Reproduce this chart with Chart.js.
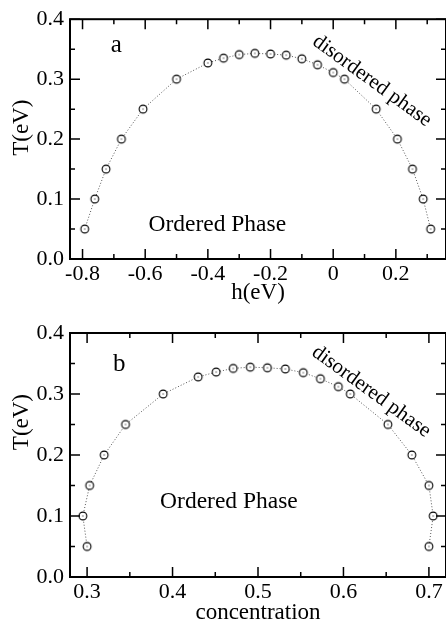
<!DOCTYPE html>
<html>
<head>
<meta charset="utf-8">
<script src="https://cdn.jsdelivr.net/npm/chart.js@4.4.0/dist/chart.umd.min.js"></script>
<style>
  html, body { margin: 0; padding: 0; background: #fff; overflow: hidden; width: 446px; height: 624px; }
  .panel { position: absolute; left: 0; }
</style>
</head>
<body>
<div class="panel" style="top:0"><canvas id="chartA" width="452" height="312"></canvas></div>
<div class="panel" style="top:312px"><canvas id="chartB" width="452" height="316"></canvas></div>
<script>
// panel a: transition temperature vs field h
const TEMP_A = [0.05, 0.1, 0.15, 0.2, 0.25, 0.3, 0.327, 0.335, 0.341, 0.343, 0.342, 0.340, 0.334, 0.324, 0.311, 0.3, 0.25, 0.2, 0.15, 0.1, 0.05];
const FIELD_H = [-0.793, -0.761, -0.725, -0.676, -0.607, -0.5, -0.4, -0.35, -0.3, -0.25, -0.2, -0.15, -0.1, -0.05, 0, 0.036, 0.137, 0.205, 0.253, 0.287, 0.311];

// panel b: transition temperature vs concentration
const TEMP_B = [0.05, 0.1, 0.15, 0.2, 0.25, 0.3, 0.328, 0.336, 0.342, 0.344, 0.343, 0.341, 0.335, 0.325, 0.312, 0.3, 0.25, 0.2, 0.15, 0.1, 0.05];
const CONC = [0.3, 0.295, 0.303, 0.32, 0.345, 0.389, 0.43, 0.451, 0.471, 0.491, 0.511, 0.532, 0.553, 0.573, 0.594, 0.608, 0.652, 0.68, 0.7, 0.705, 0.7];

const T_TICKS = [0, 0.1, 0.2, 0.3, 0.4];
const T_LABELS = ['0.0', '0.1', '0.2', '0.3', '0.4'];
const T_MINOR = [0.05, 0.15, 0.25, 0.35];
const H_TICKS = [-0.8, -0.6, -0.4, -0.2, 0, 0.2];
const H_LABELS = ['-0.8', '-0.6', '-0.4', '-0.2', '0', '0.2'];
const H_MINOR = [-0.7, -0.5, -0.3, -0.1, 0.1, 0.3];
const C_TICKS = [0.3, 0.4, 0.5, 0.6, 0.7];
const C_LABELS = ['0.3', '0.4', '0.5', '0.6', '0.7'];
const C_MINOR = [0.35, 0.45, 0.55, 0.65];

const SERIF = '"Liberation Serif", "Times New Roman", serif';
Chart.defaults.font.family = SERIF;
Chart.defaults.color = '#000';

// open circle with a dot in the middle
const marker = document.createElement('canvas');
marker.width = 12;
marker.height = 12;
(function () {
  const c = marker.getContext('2d');
  c.fillStyle = '#fff';
  c.strokeStyle = '#000';
  c.lineWidth = 1.1;
  c.beginPath();
  c.arc(6, 6, 3.9, 0, Math.PI * 2);
  c.fill();
  c.stroke();
  c.fillStyle = '#000';
  c.fillRect(5.5, 5.5, 1, 1);
})();

// box frame, inward ticks on all four sides, y title and text notes
const frameTicks = {
  id: 'frameTicks',
  afterDatasetsDraw(chart, args, opts) {
    const {ctx, chartArea: a, scales: {x, y}} = chart;
    ctx.save();
    ctx.strokeStyle = '#000';
    ctx.lineWidth = 1.5;
    ctx.beginPath();
    const xTick = (v, len) => {
      const px = x.getPixelForValue(v);
      ctx.moveTo(px, a.bottom); ctx.lineTo(px, a.bottom - len);
      ctx.moveTo(px, a.top); ctx.lineTo(px, a.top + len);
    };
    const yTick = (v, len) => {
      const py = y.getPixelForValue(v);
      ctx.moveTo(a.left, py); ctx.lineTo(a.left + len, py);
      ctx.moveTo(a.right, py); ctx.lineTo(a.right - len, py);
    };
    opts.xMajor.forEach(v => xTick(v, 10));
    opts.xMinor.forEach(v => xTick(v, 5));
    T_TICKS.forEach(v => yTick(v, 10));
    T_MINOR.forEach(v => yTick(v, 5));
    ctx.stroke();
    ctx.lineWidth = 2;
    ctx.strokeRect(a.left, a.top, a.right - a.left, a.bottom - a.top);

    ctx.fillStyle = '#000';
    ctx.textAlign = 'center';
    ctx.textBaseline = 'middle';

    // y axis title, not centred on the axis in the original
    ctx.save();
    ctx.translate(22, y.getPixelForValue(opts.yTitleAt));
    ctx.rotate(-Math.PI / 2);
    ctx.font = '23px ' + SERIF;
    ctx.fillText('T(eV)', 0, 0);
    ctx.restore();

    opts.notes.forEach(n => {
      ctx.save();
      ctx.translate(x.getPixelForValue(n.x), y.getPixelForValue(n.y));
      ctx.rotate((n.angle || 0) * Math.PI / 180);
      ctx.font = n.size + 'px ' + SERIF;
      ctx.fillText(n.text, 0, 0);
      ctx.restore();
    });
    ctx.restore();
  }
};

function makeChart(id, xs, ys, p) {
  return new Chart(document.getElementById(id), {
    type: 'scatter',
    data: {
      datasets: [{
        data: xs.map((v, i) => ({x: v, y: ys[i]})),
        showLine: true,
        borderColor: '#555',
        borderWidth: 1,
        borderDash: [1, 2],
        pointStyle: marker,
        pointRadius: 5
      }]
    },
    options: {
      responsive: false,
      animation: false,
      events: [],
      layout: {padding: {left: 0, right: 4, top: p.top, bottom: 0}},
      plugins: {
        legend: {display: false},
        tooltip: {enabled: false},
        frameTicks: {xMajor: p.xTicks, xMinor: p.xMinor, notes: p.notes, yTitleAt: p.yTitleAt}
      },
      scales: {
        x: {
          type: 'linear',
          min: p.xMin,
          max: p.xMax,
          grid: {display: false, drawTicks: false},
          border: {display: false},
          afterBuildTicks: s => { s.ticks = p.xTicks.map(v => ({value: v})); },
          afterFit: s => { s.height = p.xHeight; },
          ticks: {
            padding: 2,
            maxRotation: 0,
            autoSkip: false,
            font: {family: SERIF, size: 22},
            callback: (v, i) => p.xLabels[i]
          },
          title: {display: true, text: p.xTitle, font: {family: SERIF, size: 23}, padding: {top: 0, bottom: p.titlePad}}
        },
        y: {
          type: 'linear',
          min: 0,
          max: 0.4,
          grid: {display: false, drawTicks: false},
          border: {display: false},
          afterBuildTicks: s => { s.ticks = T_TICKS.map(v => ({value: v})); },
          afterFit: s => { s.width = 70; },
          ticks: {
            padding: 6,
            font: {family: SERIF, size: 22},
            callback: (v, i) => T_LABELS[i]
          }
        }
      }
    },
    plugins: [frameTicks]
  });
}

makeChart('chartA', FIELD_H, TEMP_A, {
  top: 15, xHeight: 53, titlePad: 5,
  xMin: -0.84, xMax: 0.36,
  xTicks: H_TICKS, xLabels: H_LABELS, xMinor: H_MINOR,
  xTitle: 'h(eV)',
  yTitleAt: 0.219,
  notes: [
    {text: 'a', x: -0.692, y: 0.356, size: 25},
    {text: 'Ordered Phase', x: -0.37, y: 0.057, size: 23.5},
    {text: 'disordered phase', x: 0.124, y: 0.297, size: 21, angle: 36}
  ]
});

makeChart('chartB', CONC, TEMP_B, {
  top: 21, xHeight: 51, titlePad: 1,
  xMin: 0.28, xMax: 0.72,
  xTicks: C_TICKS, xLabels: C_LABELS, xMinor: C_MINOR,
  xTitle: 'concentration',
  yTitleAt: 0.254,
  notes: [
    {text: 'b', x: 0.3376, y: 0.348, size: 25},
    {text: 'Ordered Phase', x: 0.466, y: 0.123, size: 23.5},
    {text: 'disordered phase', x: 0.6325, y: 0.304, size: 21, angle: 36}
  ]
});
</script>
</body>
</html>
